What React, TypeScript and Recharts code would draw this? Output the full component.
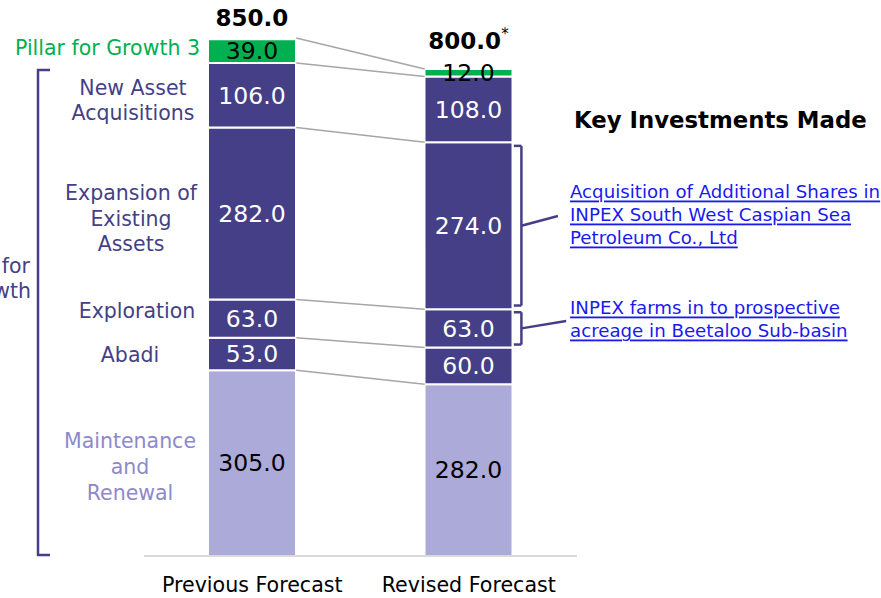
import { BarChart, Bar, XAxis, YAxis, LabelList, ReferenceLine } from 'recharts';

const categories = ['Previous Forecast', 'Revised Forecast'];
const maintenance = [305, 282];
const abadi = [53, 60];
const exploration = [63, 63];
const expansion = [282, 274];
const newAssets = [106, 108];
const pillar3 = [39, 12];
const totals = [850, 800];
const totalSuffix = ['', '*'];

const seriesKeys = ['maintenance', 'abadi', 'exploration', 'expansion', 'newAssets', 'pillar3'];
const seriesValues = [maintenance, abadi, exploration, expansion, newAssets, pillar3];

const data = categories.map((name, i) => ({
  name,
  maintenance: maintenance[i],
  abadi: abadi[i],
  exploration: exploration[i],
  expansion: expansion[i],
  newAssets: newAssets[i],
  pillar3: pillar3[i],
  total: totals[i],
}));

const W = 881;
const H = 598;
const MARGIN = { top: 38, right: 304, left: 144, bottom: 12 };
const BAR = 88;
const BAND = (W - MARGIN.left - MARGIN.right) / categories.length;
const HALF = BAR / 2 / BAND;

const DARK = '#443F86';
const LIGHT = '#ACAAD9';
const GREEN = '#00B050';
const FONT = '"DejaVu Sans", Verdana, sans-serif';

// cumulative tops of each segment, per bar
const cum = (vals: number[][], i: number) => {
  let s = 0;
  return vals.map((v) => (s += v[i]));
};
const prevTops = cum(seriesValues, 0);
const revTops = cum(seriesValues, 1);

// band units (0..2) -> fraction of plot width for the hidden numeric axis
const fx = (u: number) => u / categories.length;

// brackets on the revised bar
const brackets = [
  { lo: revTops[2], hi: revTops[3], inset: 6, lift: 16, end: 1.912 },
  { lo: revTops[1], hi: revTops[2], inset: 5, lift: 12, end: 1.95 },
];

const TotalLabel = (props: any) => {
  const { x, y, width, index, value } = props;
  const i = index ?? totals.indexOf(value);
  const off = i === 0 ? 21 : 28;
  return (
    <text
      x={x + width / 2}
      y={y - off}
      textAnchor="middle"
      dominantBaseline="central"
      fontFamily={FONT}
      fontWeight="bold"
      fontSize={23}
      fill="#000"
    >
      {value.toFixed(1)}
      {totalSuffix[i] ? (
        <tspan fontSize={15} fontWeight="normal" dy={-7}>
          {totalSuffix[i]}
        </tspan>
      ) : null}
    </text>
  );
};

export default function App() {
  const fmt = (v: any) => Number(v).toFixed(1);
  const labelStyle = { fontFamily: FONT, fontSize: 23.5 };
  const fills = [LIGHT, DARK, DARK, DARK, DARK, GREEN];
  const textFills = ['#000', '#fff', '#fff', '#fff', '#fff', '#000'];

  const x1 = fx(0.5 + HALF);
  const x2 = fx(1.5 - HALF);
  const bx = fx(1.5 + HALF + 0.04);
  const bxIn = fx(1.5 + HALF + 0.005);

  return (
    <div style={{ position: 'absolute', left: 0, top: 0, width: W, height: H, background: '#fff' }}>
      <BarChart width={W} height={H} data={data} margin={MARGIN}>
        <XAxis
          dataKey="name"
          axisLine={{ stroke: '#D9D9D9', strokeWidth: 2 }}
          tickLine={false}
          tickMargin={15}
          height={30}
          tick={{ fontFamily: FONT, fontSize: 20.6, fill: '#000' }}
        />
        <XAxis xAxisId="num" type="number" domain={[0, 1]} allowDataOverflow hide />
        <YAxis domain={[0, 850]} hide allowDataOverflow />
        {seriesKeys.map((k, si) => (
          <Bar
            key={k}
            dataKey={k}
            stackId="a"
            barSize={BAR}
            fill={fills[si]}
            stroke="#fff"
            strokeWidth={2}
            isAnimationActive={false}
          >
            <LabelList dataKey={k} position="center" formatter={fmt} fill={textFills[si]} style={labelStyle} />
            {si === seriesKeys.length - 1 ? <LabelList dataKey="total" content={TotalLabel} /> : null}
          </Bar>
        ))}
        {prevTops.map((t, i) => (
          <ReferenceLine
            key={'c' + i}
            xAxisId="num"
            ifOverflow="visible"
            stroke="#A6A6A6"
            strokeWidth={1.5}
            segment={[
              { x: x1, y: i === prevTops.length - 1 ? totals[0] : t },
              { x: x2, y: revTops[i] },
            ]}
          />
        ))}
        {brackets.map((b, i) => {
          const top = b.hi - b.inset;
          const bot = b.lo + b.inset;
          const mid = (b.lo + b.hi) / 2;
          const segs = [
            [{ x: bxIn, y: top }, { x: bx, y: top }],
            [{ x: bx, y: top }, { x: bx, y: bot }],
            [{ x: bx, y: bot }, { x: bxIn, y: bot }],
            [{ x: bx, y: mid }, { x: fx(b.end), y: mid + b.lift }],
          ];
          return segs.map((s, j) => (
            <ReferenceLine
              key={'b' + i + j}
              xAxisId="num"
              ifOverflow="visible"
              stroke={DARK}
              strokeWidth={2.5}
              segment={s}
            />
          ));
        })}
      </BarChart>
      <svg
        width={W}
        height={H}
        style={{ position: 'absolute', left: 0, top: 0, pointerEvents: 'none' }}
        fontFamily={FONT}
      >
        <path d="M50 70 H38 V555 H50" fill="none" stroke={DARK} strokeWidth={2.5} />
        <g fill={DARK} fontSize={20.5} dominantBaseline="central">
          <text x={30} y={266} textAnchor="end">Pillar for</text>
          <text x={31} y={291} textAnchor="end">Growth</text>
        </g>
        <text x={200} y={48} textAnchor="end" dominantBaseline="central" fontSize={20.5} fill={GREEN}>
          Pillar for Growth 3
        </text>
        <g fill={DARK} fontSize={20.5} textAnchor="middle" dominantBaseline="central">
          <text x={133} y={88}>New Asset</text>
          <text x={133} y={113}>Acquisitions</text>
          <text x={131} y={193}>Expansion of</text>
          <text x={131} y={219}>Existing</text>
          <text x={131} y={244}>Assets</text>
          <text x={137} y={311}>Exploration</text>
          <text x={130} y={355}>Abadi</text>
        </g>
        <g fill="#8D89CC" fontSize={20.5} textAnchor="middle" dominantBaseline="central">
          <text x={130} y={441}>Maintenance</text>
          <text x={130} y={467}>and</text>
          <text x={130} y={493}>Renewal</text>
        </g>
        <text x={574} y={120} fontSize={22.8} fontWeight="bold" dominantBaseline="central" fill="#000">
          Key Investments Made
        </text>
        <g fill="#1A1AEE" fontSize={18.2} textDecoration="underline" dominantBaseline="central">
          <text x={570} y={191}>Acquisition of Additional Shares in</text>
          <text x={570} y={214}>INPEX South West Caspian Sea</text>
          <text x={570} y={237}>Petroleum Co., Ltd</text>
          <text x={570} y={307}>INPEX farms in to prospective</text>
          <text x={570} y={330}>acreage in Beetaloo Sub-basin</text>
        </g>
      </svg>
    </div>
  );
}
